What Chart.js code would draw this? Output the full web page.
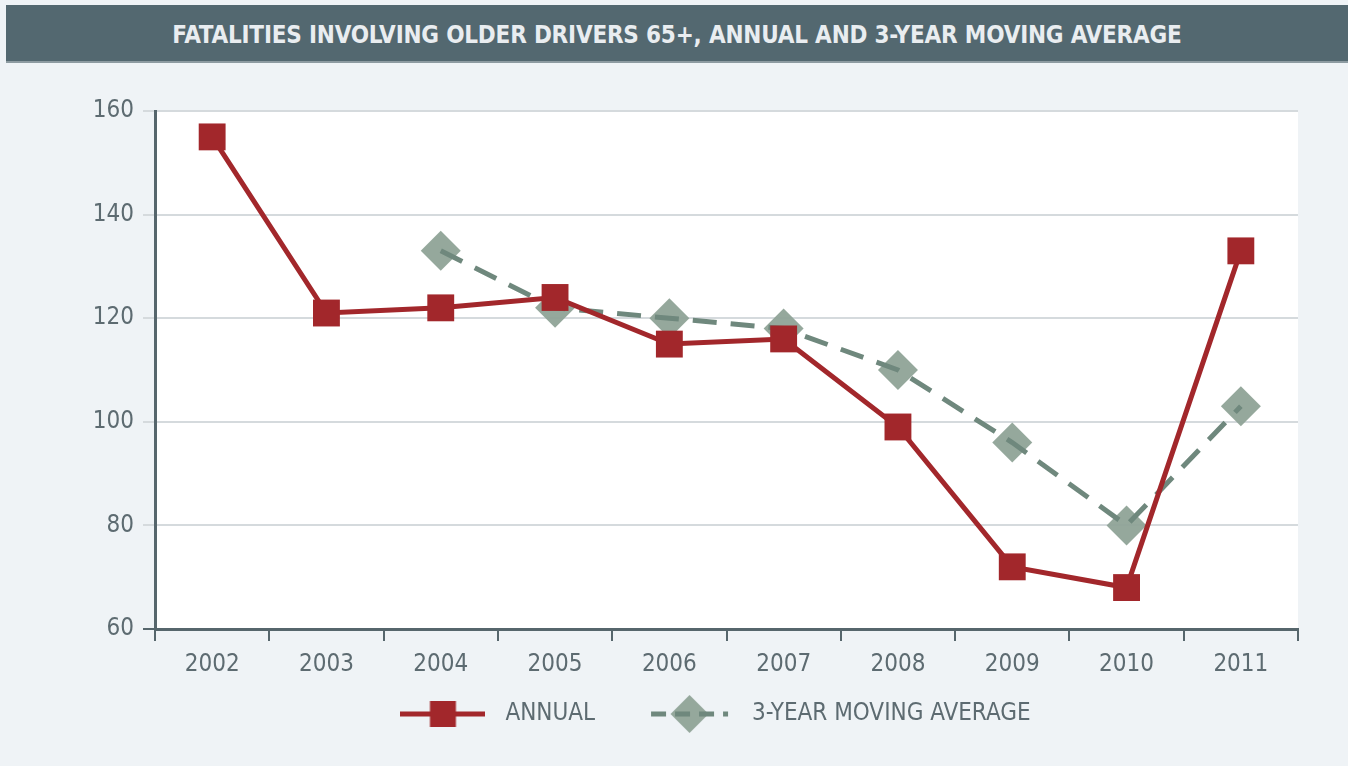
<!DOCTYPE html>
<html>
<head>
<meta charset="utf-8">
<script src="https://cdn.jsdelivr.net/npm/chart.js@4/dist/chart.umd.min.js"></script>
<style>
  html, body { margin: 0; padding: 0; background: #eff3f6; width: 1348px; height: 766px; overflow: hidden; }
  #title { position: absolute; left: 6px; top: 5px; width: 1342px; height: 56px; background: #536870;
    border-bottom: 2px solid #8d9ba1;
    color: #e9edf0; font-family: 'DejaVu Sans Condensed', 'Liberation Sans Narrow', sans-serif; font-weight: bold;
    font-size: 24px; letter-spacing: -0.2px; line-height: 60px; text-align: center; }
  #wrap { position: absolute; left: 0; top: 0; width: 1348px; height: 766px; }
</style>
</head>
<body>
<div id="wrap"><canvas id="c" width="1348" height="766"></canvas></div>
<div id="title">FATALITIES INVOLVING OLDER DRIVERS 65+, ANNUAL AND 3-YEAR MOVING AVERAGE</div>
<script>
const years = ['2002','2003','2004','2005','2006','2007','2008','2009','2010','2011'];
const annual = [155, 121, 122, 124, 115, 116, 99, 72, 68, 133];
const movingAvg = [null, null, 133, 122, 120, 118, 110, 96, 80, 103];
const yTicks = [60, 80, 100, 120, 140, 160];
const seriesNames = ['ANNUAL', '3-YEAR MOVING AVERAGE'];

const FONT = "'DejaVu Sans Condensed', 'Liberation Sans Narrow', sans-serif";
const RED = '#a2272b';
const GREEN_LINE = '#6f887d';
const GREEN_PT = 'rgba(143,163,151,0.95)';
const AXIS = '#56666c';
const GRID = '#d5dadd';
const TXT = '#5d6b71';

function legendImage(kind) {
  const c = document.createElement('canvas');
  c.width = 85; c.height = 40;
  const g = c.getContext('2d');
  if (kind === 'annual') {
    g.strokeStyle = RED; g.lineWidth = 5;
    g.beginPath(); g.moveTo(0, 20); g.lineTo(85, 20); g.stroke();
    g.fillStyle = RED; g.fillRect(42.5 - 13, 20 - 13, 26, 26);
  } else {
    g.fillStyle = GREEN_PT;
    g.beginPath(); g.moveTo(42.5, 1); g.lineTo(61.5, 20); g.lineTo(42.5, 39); g.lineTo(23.5, 20); g.closePath(); g.fill();
    g.strokeStyle = GREEN_LINE; g.lineWidth = 5; g.setLineDash([15, 9]);
    g.beginPath(); g.moveTo(4, 20); g.lineTo(81, 20); g.stroke();
  }
  return c;
}

const bgPlugin = {
  id: 'plotBg',
  beforeDraw(chart) {
    const a = chart.chartArea, ctx = chart.ctx;
    ctx.save(); ctx.fillStyle = '#ffffff';
    ctx.fillRect(a.left, a.top, a.right - a.left, a.bottom - a.top);
    ctx.restore();
  }
};

// place the legend box: centred under the plot like the reference
const legendPlace = {
  id: 'legendPlace',
  afterLayout(chart) {
    const l = chart.legend;
    const h = l.bottom - l.top;
    l.left = 125;
    l.top = chart.chartArea.bottom + 29;
    l.bottom = l.top + h;
  }
};

new Chart(document.getElementById('c'), {
  type: 'line',
  data: {
    labels: years,
    datasets: [
      { label: seriesNames[0], data: annual, borderColor: RED, backgroundColor: RED, borderWidth: 5,
        pointStyle: 'rect', pointRadius: 19, pointHoverRadius: 19, pointBorderWidth: 0, tension: 0, order: 0 },
      { label: seriesNames[1] + ' line', data: movingAvg, borderColor: GREEN_LINE, borderWidth: 5, borderDash: [24, 14],
        pointRadius: 0, tension: 0, order: 1 },
      { label: seriesNames[1], data: movingAvg, showLine: false, pointStyle: 'rectRot', pointRadius: 20,
        pointHoverRadius: 20, backgroundColor: GREEN_PT, borderColor: GREEN_PT, pointBorderWidth: 0, order: 2 }
    ]
  },
  options: {
    responsive: false, animation: false, devicePixelRatio: 1,
    layout: { padding: { left: 0, right: 50, top: 111, bottom: 9 } },
    plugins: {
      title: { display: false },
      tooltip: { enabled: false },
      legend: {
        position: 'bottom',
        labels: {
          usePointStyle: true, pointStyleWidth: 101, padding: 44,
          color: TXT, font: { family: FONT, size: 24 },
          generateLabels() {
            return [
              { text: seriesNames[0], pointStyle: legendImage('annual'), fontColor: TXT, datasetIndex: 0, lineWidth: 0, strokeStyle: 'transparent', fillStyle: 'transparent' },
              { text: seriesNames[1], pointStyle: legendImage('avg'), fontColor: TXT, datasetIndex: 2, lineWidth: 0, strokeStyle: 'transparent', fillStyle: 'transparent' }
            ];
          }
        }
      }
    },
    scales: {
      x: {
        offset: true,
        grid: { offset: true, drawOnChartArea: false, drawTicks: true, tickLength: 12, color: AXIS, lineWidth: 2 },
        border: { color: AXIS, width: 3 },
        ticks: { color: TXT, font: { family: FONT, size: 24 }, padding: 9, maxRotation: 0 },
        afterFit(s) { s.height = 50; }
      },
      y: {
        min: 60, max: 160,
        afterBuildTicks(s) { s.ticks = yTicks.map(v => ({ value: v })); },
        grid: { color: (c) => (c.tick && c.tick.value === 60 ? AXIS : GRID), lineWidth: 2, tickLength: 12 },
        border: { color: AXIS, width: 3 },
        ticks: { color: TXT, font: { family: FONT, size: 24 }, padding: 9 },
        afterFit(s) { s.width = 155; }
      }
    }
  },
  plugins: [bgPlugin, legendPlace]
});
</script>
</body>
</html>
